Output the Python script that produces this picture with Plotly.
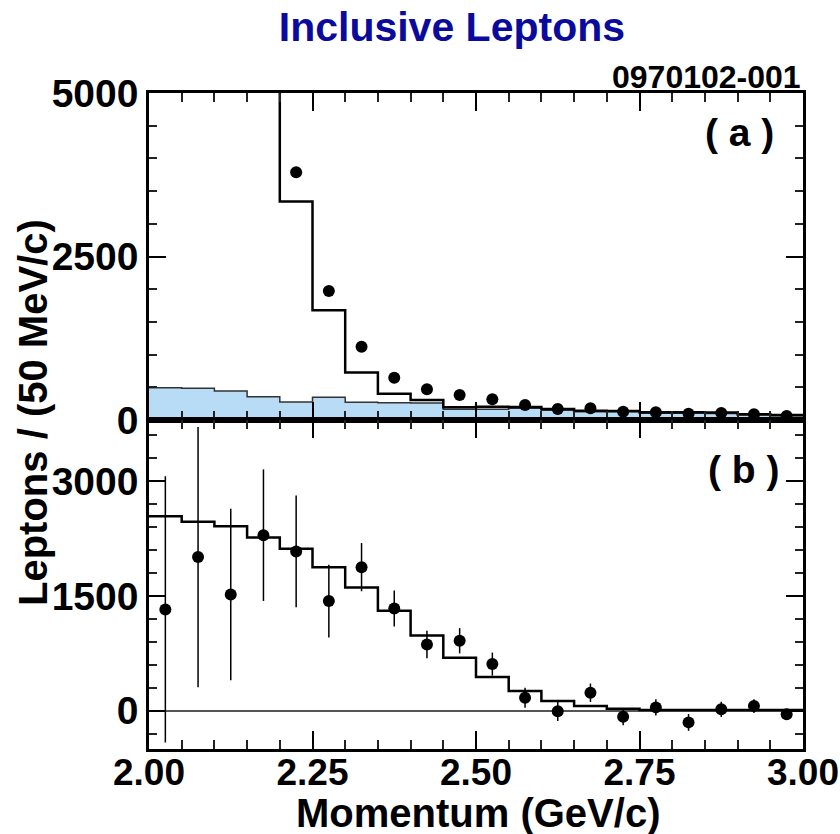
import plotly.graph_objects as go
from plotly.subplots import make_subplots

# ---- data ----
bin_edges = [round(2.00 + 0.05 * i, 2) for i in range(21)]
bin_centers = [round(2.025 + 0.05 * i, 3) for i in range(20)]

# panel (a)
a_mc_total = [20000, 20000, 20000, 20000, 3340, 1680, 725, 400, 306, 194,
              204, 200, 168, 140, 138, 118, 117, 115, 88, 78]
a_background = [494, 484, 443, 357, 275, 347, 270, 265, 262, 163,
                163, 180, 150, 125, 125, 105, 105, 100, 75, 65]
a_data_x = bin_centers[4:]
a_data_y = [3787, 1972, 1121, 647, 469, 382, 316, 229, 168, 179,
            127, 117, 97, 107, 87, 61]

# panel (b)
b_model = [2543, 2469, 2413, 2265, 2116, 1877, 1612, 1306, 985, 692,
           442, 257, 127, 61, 26, 10, 10, 10, 10, 10]
b_data_y = [1324, 2008, 1520, 2295, 2082, 1433, 1877, 1337, 867, 915,
            610, 170, -8, 235, -78, 44, -152, 18, 61, -47]
b_data_err = [1740, 1700, 1120, 860, 730, 475, 315, 235, 180, 165,
              150, 130, 125, 120, 110, 105, 110, 100, 90, 70]

x_tick_vals = [2.00, 2.25, 2.50, 2.75, 3.00]
x_tick_text = ["2.00", "2.25", "2.50", "2.75", "3.00"]

FONT = "Liberation Sans, Arial, Helvetica, sans-serif"

fig = make_subplots(rows=2, cols=1, shared_xaxes=True, vertical_spacing=0,
                    row_heights=[0.4985, 0.5015])

# panel (a)
fig.add_trace(go.Scatter(x=bin_edges, y=a_background + [a_background[-1]],
                         mode="lines", line=dict(shape="hv", color="#333333", width=1.5),
                         fill="tozeroy", fillcolor="#b8dcf5", showlegend=False),
              row=1, col=1)
fig.add_trace(go.Scatter(x=bin_edges, y=a_mc_total + [a_mc_total[-1]],
                         mode="lines", line=dict(shape="hv", color="black", width=2.5),
                         showlegend=False), row=1, col=1)
fig.add_trace(go.Scatter(x=a_data_x, y=a_data_y, mode="markers",
                         marker=dict(color="black", size=12), showlegend=False,
                         cliponaxis=False), row=1, col=1)

# panel (b)
fig.add_trace(go.Scatter(x=bin_edges, y=b_model + [b_model[-1]],
                         mode="lines", line=dict(shape="hv", color="black", width=2.5),
                         showlegend=False), row=2, col=1)
fig.add_trace(go.Scatter(x=bin_centers, y=b_data_y, mode="markers",
                         marker=dict(color="black", size=12),
                         error_y=dict(type="data", array=b_data_err, color="black",
                                      thickness=1.5, width=0),
                         showlegend=False), row=2, col=1)

tickfont = dict(family=FONT, size=39, color="black", weight="bold")
xtickfont = dict(family=FONT, size=37, color="black", weight="bold")

common_x = dict(range=[2.0, 3.0], tickmode="array", tickvals=x_tick_vals,
                ticks="inside", ticklen=18, tickwidth=2, tickcolor="black",
                minor=dict(dtick=0.05, tick0=2.0, ticks="inside", ticklen=9,
                           tickwidth=1.5, tickcolor="#222222"),
                showline=True, linewidth=2.5, linecolor="black", mirror="ticks",
                showgrid=False, zeroline=False, automargin=False)
fig.update_xaxes(**common_x, showticklabels=False, row=1, col=1)
fig.update_xaxes(**common_x, ticktext=x_tick_text, showticklabels=True,
                 tickfont=xtickfont, ticklabelstandoff=-11,
                 ticklabeloverflow="allow", row=2, col=1)

common_y = dict(ticks="inside", ticklen=17, tickwidth=2, tickcolor="black",
                showline=True, linewidth=2.5, linecolor="black", mirror="ticks",
                showgrid=False, tickfont=tickfont, tickmode="linear", tick0=0,
                automargin=False)
fig.update_yaxes(**common_y, range=[0, 5000], dtick=2500,
                 minor=dict(dtick=500, tick0=0, ticks="inside", ticklen=8,
                            tickwidth=1.5, tickcolor="#222222"),
                 zeroline=False, row=1, col=1)
fig.update_yaxes(**common_y, range=[-500, 3800], dtick=1500,
                 minor=dict(dtick=300, tick0=0, ticks="inside", ticklen=8,
                            tickwidth=1.5, tickcolor="#222222"),
                 zeroline=True, zerolinecolor="#555555", zerolinewidth=1.5,
                 row=2, col=1)

annfont = dict(family=FONT, color="black", weight="bold")
fig.update_layout(
    width=840, height=834,
    margin=dict(l=149, r=37, t=93, b=85, autoexpand=False),
    paper_bgcolor="white", plot_bgcolor="white",
    title=dict(text="Inclusive Leptons", x=0.538, xanchor="center",
               y=1 - 27 / 834, yanchor="middle",
               font=dict(family=FONT, size=41, color="#0a0a9c", weight="bold")),
    annotations=[
        dict(text="0970102-001", xref="paper", yref="paper", x=1.0, xanchor="right",
             y=(749 - 77) / 656, yanchor="middle", showarrow=False,
             font=dict(size=32, **annfont)),
        dict(text="( a )", xref="paper", yref="paper", x=(739 - 149) / 654, xanchor="center",
             y=(749 - 132) / 656, yanchor="middle", showarrow=False,
             font=dict(size=39, **annfont)),
        dict(text="( b )", xref="paper", yref="paper", x=(743 - 149) / 654, xanchor="center",
             y=(749 - 469) / 656, yanchor="middle", showarrow=False,
             font=dict(size=39, **annfont)),
        dict(text="Leptons / (50 MeV/c)", xref="paper", yref="paper",
             x=(33 - 149) / 654, xanchor="center", y=(749 - 413) / 656, yanchor="middle",
             textangle=-90, showarrow=False, font=dict(size=40, **annfont)),
        dict(text="Momentum (GeV/c)", xref="paper", yref="paper",
             x=(478 - 149) / 654, xanchor="center", y=(749 - 813) / 656, yanchor="middle",
             showarrow=False, font=dict(size=40, **annfont)),
    ],
)

fig.write_html("out.html")
